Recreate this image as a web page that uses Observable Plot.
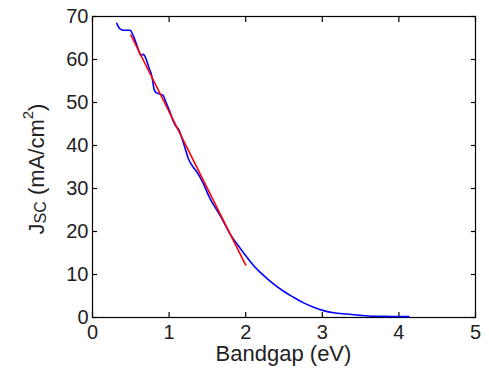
<!DOCTYPE html>
<html>
<head>
<meta charset="utf-8">
<script src="https://cdn.jsdelivr.net/npm/d3@7"></script>
<script src="https://cdn.jsdelivr.net/npm/@observablehq/plot@0.6"></script>
<style>
  html, body { margin: 0; padding: 0; background: #fff; }
</style>
</head>
<body>
<div id="chart"></div>
<script>
const bandgap = [0.316, 0.359, 0.40, 0.49, 0.533, 0.58, 0.634, 0.66, 0.677, 0.708, 0.74, 0.774, 0.804, 0.83, 0.86, 0.918, 0.961, 1.013, 1.06, 1.10, 1.12, 1.165, 1.20, 1.252, 1.318, 1.36, 1.405, 1.45, 1.536, 1.623, 1.667, 1.754, 1.797, 1.928, 2.016, 2.102, 2.19, 2.277, 2.363, 2.494, 2.625, 2.756, 2.886, 3.017, 3.148, 3.323, 3.497, 3.67, 3.9, 4.13];
const jsc = [68.4, 67.1, 66.8, 66.8, 65.5, 63.3, 60.9, 61.2, 61.0, 59.7, 57.9, 56.2, 53.1, 52.3, 52.1, 51.7, 50.0, 47.7, 45.4, 44.2, 43.9, 41.8, 39.9, 36.9, 34.9, 33.9, 32.6, 31.0, 27.6, 25.0, 23.7, 20.8, 19.4, 16.1, 14.0, 12.1, 10.5, 9.1, 7.8, 6.1, 4.7, 3.4, 2.4, 1.6, 1.1, 0.8, 0.5, 0.3, 0.25, 0.2];
const fitX = [0.5, 2.0];
const fitY = [65.7, 12.2];
const xTicks = [0, 1, 2, 3, 4, 5];
const yTicks = [0, 10, 20, 30, 40, 50, 60, 70];
const xLabel = "Bandgap (eV)";

const curve = bandgap.map((b, i) => ({x: b, y: jsc[i]}));
const fit = fitX.map((b, i) => ({x: b, y: fitY[i]}));

const plot = Plot.plot({
  width: 489,
  height: 369,
  marginLeft: 92,
  marginRight: 14,
  marginTop: 16,
  marginBottom: 52,
  style: {fontFamily: "'Liberation Sans', Arial, sans-serif", fontSize: "20px", color: "#000", background: "#fff"},
  x: {domain: [0, 5]},
  y: {domain: [0, 70]},
  marks: [
    Plot.frame({stroke: "#000", strokeWidth: 1.2}),
    Plot.axisX({anchor: "bottom", ticks: xTicks, tickFormat: d3.format("d"), tickSize: -5, tickPadding: 12, label: null, fill: "#222", strokeWidth: 1.2}),
    Plot.axisX({anchor: "top", ticks: xTicks, tickSize: -5, tickFormat: () => "", label: null, strokeWidth: 1.2}),
    Plot.axisY({anchor: "left", ticks: yTicks, tickFormat: d3.format("d"), tickSize: -5, tickPadding: 9, label: null, fill: "#222", strokeWidth: 1.2}),
    Plot.axisY({anchor: "right", ticks: yTicks, tickSize: -5, tickFormat: () => "", label: null, strokeWidth: 1.2}),
    Plot.line(curve, {x: "x", y: "y", stroke: "#0000ff", strokeWidth: 1.6, curve: "monotone-x"}),
    Plot.line(fit, {x: "x", y: "y", stroke: "#ff0000", strokeWidth: 1.6})
  ]
});

const svg = d3.select(plot);
svg.append("text")
  .attr("x", 283.5)
  .attr("y", 361)
  .attr("text-anchor", "middle")
  .attr("font-size", 22)
  .attr("fill", "#222")
  .text(xLabel);

const yl = svg.append("text")
  .attr("transform", "translate(44,169) rotate(-90)")
  .attr("text-anchor", "middle")
  .attr("font-size", 22)
  .attr("fill", "#222");
yl.append("tspan").text("J");
yl.append("tspan").attr("font-size", 16).attr("dy", 2).text("SC");
yl.append("tspan").attr("dy", -2).text(" (mA/cm");
yl.append("tspan").attr("font-size", 15).attr("dy", -11).text("2");
yl.append("tspan").attr("dy", 11).text(")");

document.getElementById("chart").appendChild(plot);
</script>
</body>
</html>
